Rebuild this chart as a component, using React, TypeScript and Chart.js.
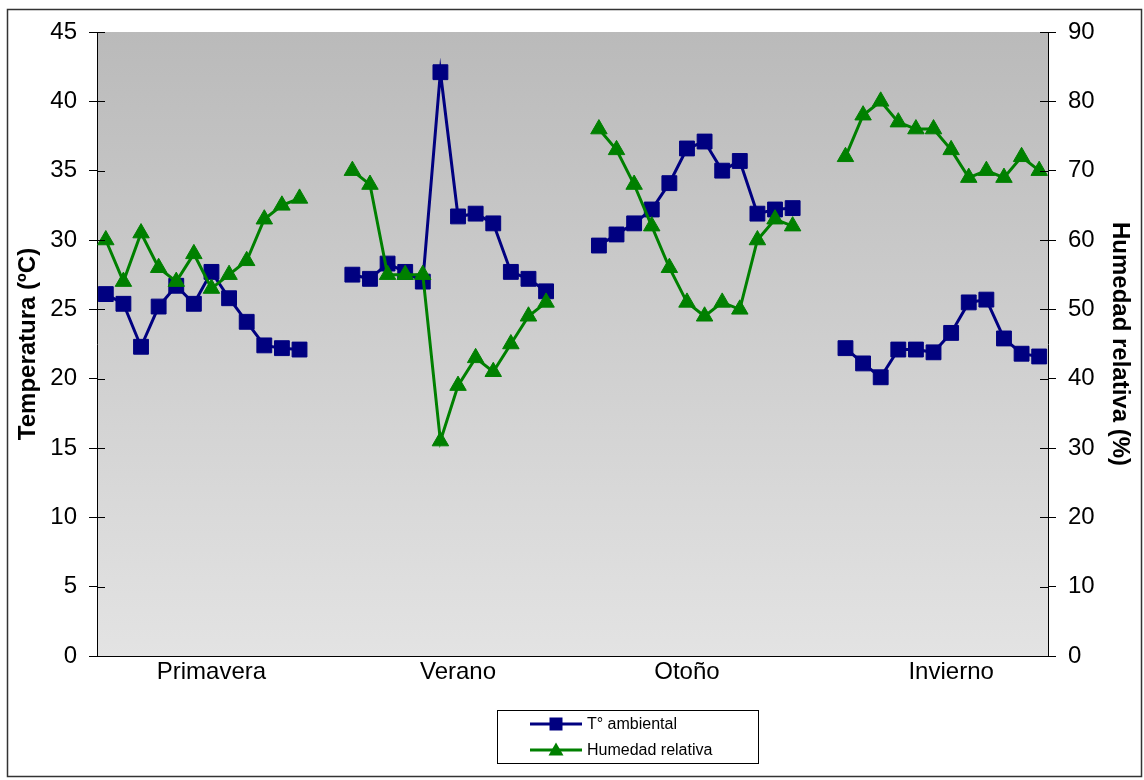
import React, { useEffect, useRef } from "react";
import { Chart, registerables } from "chart.js";

Chart.register(...registerables);

// ---- data ----
const seasons = ["Primavera", "Verano", "Otoño", "Invierno"];
const seasonLabelSlot = [6, 6, 5, 6]; // slot in each group where the season name is shown
const gapSlots = 2; // empty categories between groups

const tempPrimavera = [26.1, 25.4, 22.3, 25.2, 26.7, 25.4, 27.7, 25.8, 24.1, 22.4, 22.2, 22.1];
const tempVerano = [27.5, 27.2, 28.3, 27.7, 27.0, 42.1, 31.7, 31.9, 31.2, 27.7, 27.2, 26.3];
const tempOtono = [29.6, 30.4, 31.2, 32.2, 34.1, 36.6, 37.1, 35.0, 35.7, 31.9, 32.2, 32.3];
const tempInvierno = [22.2, 21.1, 20.1, 22.1, 22.1, 21.9, 23.3, 25.5, 25.7, 22.9, 21.8, 21.6];

const humPrimavera = [60, 54, 61, 56, 54, 58, 53, 55, 57, 63, 65, 66];
const humVerano = [70, 68, 55, 55, 55, 31, 39, 43, 41, 45, 49, 51];
const humOtono = [76, 73, 68, 62, 56, 51, 49, 51, 50, 60, 63, 62];
const humInvierno = [72, 78, 80, 77, 76, 76, 73, 69, 70, 69, 72, 70];

const tempTicks = { min: 0, max: 45, step: 5 };
const humTicks = { min: 0, max: 90, step: 10 };

const seriesNames = ["T° ambiental", "Humedad relativa"];
const leftTitle = "Temperatura (ºC)";
const rightTitle = "Humedad relativa (%)";

// ---- build ----
function joinGroups(groups: number[][]): (number | null)[] {
  const out: (number | null)[] = [];
  groups.forEach((g, i) => {
    if (i > 0) for (let k = 0; k < gapSlots; k++) out.push(null);
    g.forEach((v) => out.push(v));
  });
  return out;
}

const tempSeries = joinGroups([tempPrimavera, tempVerano, tempOtono, tempInvierno]);
const humSeries = joinGroups([humPrimavera, humVerano, humOtono, humInvierno]);

const groupLen = tempPrimavera.length;
const categoryLabels: string[] = tempSeries.map(() => "");
seasons.forEach((s, i) => {
  categoryLabels[i * (groupLen + gapSlots) + seasonLabelSlot[i]] = s;
});

const NAVY = "#000080";
const GREEN = "#008000";
const FONT = "'Liberation Sans', Arial, Helvetica, sans-serif";

const bgPlugin = {
  id: "bgGradient",
  beforeDraw(chart: any) {
    const { ctx, chartArea: a } = chart;
    ctx.save();
    ctx.fillStyle = "#ffffff";
    ctx.fillRect(0, 0, chart.width, chart.height);
    const g = ctx.createLinearGradient(0, a.top, 0, a.bottom);
    g.addColorStop(0, "#bababa");
    g.addColorStop(1, "#e3e3e3");
    ctx.fillStyle = g;
    ctx.fillRect(a.left, a.top, a.right - a.left, a.bottom - a.top);
    ctx.restore();
  },
};

const decoPlugin = {
  id: "deco",
  afterDraw(chart: any) {
    const { ctx, chartArea: a } = chart;
    ctx.save();
    // inner half of y tick marks
    ctx.strokeStyle = "#000";
    ctx.lineWidth = 1;
    const ys = chart.scales.y;
    ys.ticks.forEach((t: any) => {
      const py = Math.round(ys.getPixelForValue(t.value)) + 0.5;
      ctx.beginPath();
      ctx.moveTo(a.left, py);
      ctx.lineTo(a.left + 8, py);
      ctx.stroke();
    });
    const ys1 = chart.scales.y1;
    ys1.ticks.forEach((t: any) => {
      const py = Math.round(ys1.getPixelForValue(t.value)) + 0.5;
      ctx.beginPath();
      ctx.moveTo(a.right - 8, py);
      ctx.lineTo(a.right, py);
      ctx.stroke();
    });

    // outer border
    ctx.strokeStyle = "#333";
    ctx.lineWidth = 1.5;
    ctx.strokeRect(7.5, 9.5, 1134, 767);

    // legend
    const bx = 497.5, by = 710.5, bw = 261, bh = 53;
    ctx.lineWidth = 1;
    ctx.strokeStyle = "#000";
    ctx.fillStyle = "#fff";
    ctx.fillRect(bx, by, bw, bh);
    ctx.strokeRect(bx, by, bw, bh);
    const rows = [724, 750];
    const colors = [NAVY, GREEN];
    rows.forEach((ry, i) => {
      ctx.strokeStyle = colors[i];
      ctx.lineWidth = 3;
      ctx.beginPath();
      ctx.moveTo(530, ry);
      ctx.lineTo(582, ry);
      ctx.stroke();
      ctx.fillStyle = colors[i];
      if (i === 0) {
        ctx.fillRect(556 - 6.5, ry - 6.5, 13, 13);
      } else {
        ctx.beginPath();
        ctx.moveTo(556, ry - 7.5);
        ctx.lineTo(556 + 7.5, ry + 5.5);
        ctx.lineTo(556 - 7.5, ry + 5.5);
        ctx.closePath();
        ctx.fill();
      }
      ctx.fillStyle = "#000";
      ctx.font = `16px ${FONT}`;
      ctx.textBaseline = "middle";
      ctx.textAlign = "left";
      ctx.fillText(seriesNames[i], 587, ry + 1);
    });
    ctx.restore();
  },
};

export default function App() {
  const ref = useRef<HTMLCanvasElement | null>(null);

  useEffect(() => {
    if (!ref.current) return;
    const chart = new Chart(ref.current, {
      type: "line",
      data: {
        labels: categoryLabels,
        datasets: [
          {
            label: seriesNames[0],
            data: tempSeries,
            yAxisID: "y",
            borderColor: NAVY,
            backgroundColor: NAVY,
            borderWidth: 3,
            pointStyle: "rect",
            pointRadius: 10.5,
            pointBorderWidth: 1,
            pointBorderColor: NAVY,
            pointBackgroundColor: NAVY,
            tension: 0,
            order: 1,
          },
          {
            label: seriesNames[1],
            data: humSeries,
            yAxisID: "y1",
            borderColor: GREEN,
            backgroundColor: GREEN,
            borderWidth: 3,
            pointStyle: "triangle",
            pointRadius: 9.5,
            pointBorderWidth: 1,
            pointBorderColor: GREEN,
            pointBackgroundColor: GREEN,
            tension: 0,
            order: 0,
          },
        ],
      },
      options: {
        responsive: false,
        animation: false,
        devicePixelRatio: 1,
        layout: { padding: { left: 0, right: 0, top: 32, bottom: 0 } },
        plugins: {
          legend: { display: false },
          tooltip: { enabled: false },
        },
        scales: {
          x: {
            type: "category",
            offset: true,
            grid: { display: false, drawTicks: false },
            border: { display: true, color: "#000", width: 1 },
            ticks: {
              autoSkip: false,
              maxRotation: 0,
              minRotation: 0,
              padding: 2,
              color: "#000",
              font: { family: FONT, size: 24 },
            },
            afterFit(scale: any) {
              scale.height = 124;
            },
          },
          y: {
            position: "left",
            min: tempTicks.min,
            max: tempTicks.max,
            grid: { display: true, drawOnChartArea: false, drawTicks: true, tickLength: 8, color: "#000" },
            border: { display: true, color: "#000", width: 1 },
            ticks: {
              stepSize: tempTicks.step,
              padding: 12,
              color: "#000",
              font: { family: FONT, size: 24 },
            },
            title: {
              display: true,
              text: leftTitle,
              color: "#000",
              font: { family: FONT, size: 24, weight: "bold" },
              padding: { top: 14, bottom: 0 },
            },
            afterFit(scale: any) {
              scale.width = 97;
            },
          },
          y1: {
            position: "right",
            min: humTicks.min,
            max: humTicks.max,
            grid: { display: true, drawOnChartArea: false, drawTicks: true, tickLength: 8, color: "#000" },
            border: { display: true, color: "#000", width: 1 },
            ticks: {
              stepSize: humTicks.step,
              padding: 12,
              color: "#000",
              font: { family: FONT, size: 24 },
            },
            title: {
              display: true,
              text: rightTitle,
              color: "#000",
              font: { family: FONT, size: 24, weight: "bold" },
              padding: { top: 10, bottom: 0 },
            },
            afterFit(scale: any) {
              scale.width = 96;
            },
          },
        },
      },
      plugins: [bgPlugin, decoPlugin],
    });
    return () => chart.destroy();
  }, []);

  return (
    <div style={{ position: "absolute", left: 0, top: 0, width: 1144, height: 780 }}>
      <canvas ref={ref} width={1144} height={780} style={{ width: 1144, height: 780, display: "block" }} />
    </div>
  );
}
